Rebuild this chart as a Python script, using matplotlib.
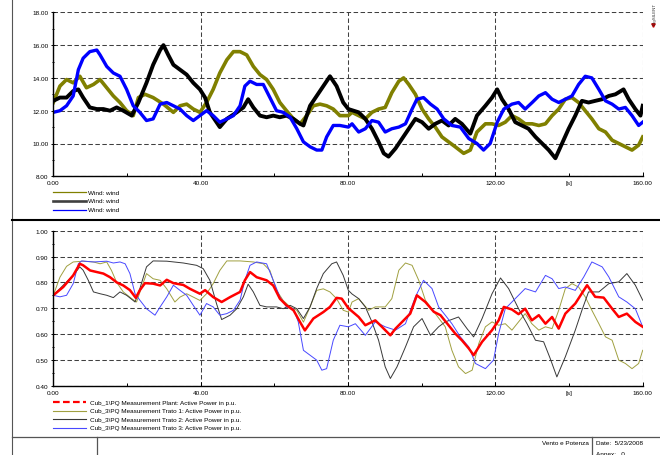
import numpy as np
import matplotlib
matplotlib.use("Agg")
import matplotlib.pyplot as plt
from matplotlib.lines import Line2D

plt.rcParams['font.family'] = ['Liberation Sans', 'DejaVu Sans']

# ---- wind speeds (top panel) ----
t_w1 = [0, 1.8, 3.6, 5.4, 7.2, 9, 10.9, 12.7, 14.5, 16.3,
        18.1, 19.9, 21.7, 23.1, 24.9, 27.1, 29.9, 32.6, 34.4, 36.2,
        38, 39.8, 41.6, 43.4, 45.2, 47.1, 48.9, 50.7, 52.5, 54.3,
        56.1, 57.9, 59.7, 61.5, 63.3, 65.2, 67, 68.8, 70.6, 72.4,
        74.2, 76, 77.8, 80.1, 81.1, 82.9, 84.7, 86.5, 88.3, 90.1,
        91.9, 93.8, 95.1, 96.5, 98.3, 100.1, 101.9, 103.7, 105.5, 107.3,
        109.1, 111.4, 113.2, 115, 117.3, 119.1, 120.9, 122.7, 124.5, 126.3,
        128.1, 130, 131.8, 133.6, 135.4, 137.2, 139, 140.8, 142.6, 144.4,
        146.2, 148.1, 149.9, 151.7, 153.5, 155.3, 157.1, 158.9, 160]
v_w1 = [12.5, 13.5, 13.9, 13.7, 14.1, 13.4, 13.6, 13.9, 13.4, 12.9,
        12.5, 12.0, 11.7, 12.8, 13.0, 12.8, 12.4, 11.9, 12.3, 12.4,
        12.1, 11.9, 12.5, 13.3, 14.3, 15.1, 15.6, 15.6, 15.4, 14.7,
        14.2, 13.9, 13.3, 12.5, 12.0, 11.5, 11.2, 11.7, 12.3, 12.4,
        12.3, 12.1, 11.7, 11.7, 11.9, 11.7, 11.5, 11.9, 12.1, 12.2,
        13.1, 13.8, 14.0, 13.6, 13.0, 12.1, 11.5, 11.0, 10.4, 10.1,
        9.8, 9.4, 9.6, 10.7, 11.2, 11.2, 11.1, 11.3, 11.7, 11.5,
        11.2, 11.2, 11.1, 11.2, 11.7, 12.1, 12.7, 12.8, 12.5, 12.0,
        11.5, 10.9, 10.7, 10.2, 10.0, 9.8, 9.6, 9.9, 10.4]

t_w2 = [0, 1.8, 3.6, 5.4, 6.8, 8.1, 9.9, 11.8, 13.6, 15.4,
        17.2, 19, 21.3, 23.1, 25.3, 27.1, 29, 29.9, 31.2, 32.6,
        34.4, 36.2, 38, 39.8, 41.2, 42.5, 44.3, 45.2, 47.1, 49.8,
        51.6, 52.9, 54.3, 56.1, 57.9, 59.7, 61.5, 63.3, 65.2, 67,
        67.9, 69.7, 71.5, 73.3, 75.1, 76.9, 78.7, 80.1, 82.9, 84.7,
        86.5, 88.3, 89.7, 91, 92.9, 94.7, 96.5, 98.3, 100.1, 101.9,
        103.7, 105.5, 107.3, 109.1, 110.9, 113.2, 115, 117.3, 119.1, 120.5,
        121.8, 123.6, 125.4, 127.2, 129, 130.9, 132.7, 134.5, 136.3, 138.1,
        139.9, 141.7, 143.5, 145.3, 147.1, 149, 150.8, 152.6, 154.8, 156.2,
        158, 159.4, 160]
v_w2 = [12.6, 12.8, 12.8, 13.2, 13.3, 12.8, 12.2, 12.1, 12.1, 12.0,
        12.2, 12.0, 11.7, 12.5, 13.7, 14.8, 15.7, 16.0, 15.4, 14.8,
        14.5, 14.2, 13.7, 13.3, 12.8, 11.9, 11.3, 11.0, 11.5, 11.9,
        12.2, 12.7, 12.2, 11.7, 11.6, 11.7, 11.6, 11.7, 11.5, 11.2,
        11.1, 12.3, 12.9, 13.5, 14.1, 13.5, 12.5, 12.1, 11.9, 11.5,
        10.9, 10.1, 9.4, 9.2, 9.7, 10.3, 10.9, 11.5, 11.3, 10.9,
        11.2, 11.4, 11.1, 11.5, 11.2, 10.6, 11.7, 12.3, 12.8, 13.3,
        12.7, 12.1, 11.3, 11.1, 10.9, 10.4, 10.0, 9.6, 9.1, 10.0,
        10.9, 11.7, 12.6, 12.5, 12.6, 12.7, 12.9, 13.0, 13.3, 12.7,
        12.1, 11.7, 12.3]

t_w3 = [0, 1.8, 3.6, 5.4, 6.8, 8.1, 9.9, 11.8, 12.7, 14.5,
        16.3, 18.1, 19.9, 21.7, 23.5, 25.3, 27.1, 29, 30.8, 32.6,
        34.4, 36.2, 38, 39.8, 41.6, 43.4, 45.2, 47.1, 48.9, 50.7,
        52, 53.4, 55.2, 57, 58.8, 60.6, 62.4, 64.3, 66.1, 67.9,
        69.7, 71.5, 72.9, 74.2, 76, 77.8, 80.1, 81.1, 82.9, 84.7,
        86.5, 88.3, 90.1, 91.9, 93.8, 95.6, 97.4, 98.7, 100.5, 102.4,
        104.2, 106, 108.2, 110.5, 112.8, 115, 116.8, 118.6, 120.5, 122.3,
        124.5, 126.3, 128.1, 130, 131.8, 133.6, 135.4, 137.2, 139, 140.8,
        142.6, 144.4, 146.2, 148.1, 149.9, 151.7, 153.5, 155.3, 157.1, 158.9,
        160]
v_w3 = [11.9, 12.0, 12.3, 12.9, 14.5, 15.2, 15.6, 15.7, 15.4, 14.7,
        14.3, 14.1, 13.3, 12.3, 11.9, 11.4, 11.5, 12.4, 12.5, 12.3,
        12.1, 11.7, 11.4, 11.7, 12.0, 11.7, 11.3, 11.5, 11.7, 12.3,
        13.5, 13.8, 13.6, 13.6, 12.8, 12.0, 11.9, 11.6, 10.9, 10.1,
        9.8, 9.6, 9.6, 10.4, 11.1, 11.1, 11.0, 11.2, 10.7, 10.9,
        11.4, 11.3, 10.7, 10.9, 11.0, 11.2, 12.1, 12.7, 12.8, 12.4,
        12.1, 11.5, 11.1, 11.0, 10.3, 10.0, 9.6, 10.0, 11.3, 12.1,
        12.4, 12.5, 12.1, 12.5, 12.9, 13.1, 12.7, 12.5, 12.7, 12.9,
        13.6, 14.1, 14.0, 13.3, 12.6, 12.4, 12.1, 12.2, 11.7, 11.1,
        11.3]

# ---- active power (bottom panel) ----
t_p0 = [0, 2.7, 5.4, 7.2, 8.1, 10, 11.8, 13.6, 15.4, 17.2,
        19, 20.8, 22.4, 23.5, 24.9, 27.1, 29, 30.8, 32.6, 35.3,
        37.1, 39.8, 41.2, 43.4, 45.7, 48, 50.7, 52, 53.4, 55.2,
        57.9, 59.7, 61.5, 63.3, 65.2, 67, 68.3, 70.6, 73.3, 75.1,
        76.9, 78.3, 80.1, 82.9, 84.7, 87.4, 89.2, 91.5, 92.9, 94.7,
        96.9, 98.7, 101, 103.3, 105.1, 107.3, 109.1, 110.9, 112.8, 114.1,
        116.4, 119.1, 120.9, 122.3, 124.5, 126.3, 128.1, 129.9, 131.8, 133.6,
        135.4, 137.2, 139, 141.7, 144.9, 147.1, 149.4, 151.7, 153.5, 155.7,
        158, 160]
v_p0 = [0.75, 0.782, 0.827, 0.872, 0.866, 0.846, 0.84, 0.834, 0.82, 0.80,
        0.788, 0.77, 0.74, 0.77, 0.797, 0.795, 0.788, 0.81, 0.797, 0.79,
        0.775, 0.756, 0.77, 0.743, 0.724, 0.743, 0.763, 0.808, 0.84, 0.82,
        0.808, 0.788, 0.737, 0.711, 0.692, 0.646, 0.614, 0.66, 0.685, 0.705,
        0.74, 0.737, 0.70, 0.666, 0.634, 0.653, 0.628, 0.595, 0.621, 0.647,
        0.679, 0.75, 0.724, 0.686, 0.673, 0.634, 0.602, 0.576, 0.544, 0.518,
        0.57, 0.615, 0.653, 0.705, 0.695, 0.677, 0.698, 0.653, 0.673, 0.64,
        0.666, 0.621, 0.679, 0.718, 0.789, 0.744, 0.741, 0.698, 0.666, 0.679,
        0.647, 0.628]

t_p1 = [0, 1.8, 3.6, 5.4, 8.1, 10.9, 12.7, 14.5, 15.8, 17.2,
        19, 21.3, 22.6, 24, 25.3, 27.1, 29, 30.8, 33, 34.4,
        36.2, 38, 39.8, 41.6, 43.4, 45.2, 47.1, 50.7, 54.3, 57,
        58.8, 60.6, 62.4, 64.3, 66.1, 67.9, 69.7, 71.5, 73.3, 75.1,
        76.9, 78.7, 80.1, 81.1, 82.9, 85.6, 87.4, 90.1, 91.9, 93.8,
        95.6, 97.4, 99.2, 101, 103.7, 106.4, 108.2, 110, 111.9, 113.7,
        115.5, 117.3, 119.1, 120.9, 122.7, 124.5, 126.3, 128.1, 129.9, 131.8,
        133.6, 135.4, 137.2, 139, 140.8, 142.6, 144.4, 146.2, 148.1, 149.9,
        151.7, 153.5, 155.3, 157.1, 158.9, 160]
v_p1 = [0.75, 0.82, 0.862, 0.879, 0.882, 0.879, 0.872, 0.879, 0.846, 0.80,
        0.763, 0.737, 0.724, 0.782, 0.834, 0.814, 0.808, 0.775, 0.724, 0.743,
        0.756, 0.743, 0.73, 0.756, 0.795, 0.846, 0.883, 0.883, 0.879, 0.872,
        0.846, 0.769, 0.73, 0.705, 0.692, 0.646, 0.705, 0.769, 0.775, 0.763,
        0.737, 0.692, 0.685, 0.724, 0.737, 0.692, 0.705, 0.705, 0.737, 0.847,
        0.875, 0.866, 0.808, 0.731, 0.679, 0.628, 0.537, 0.473, 0.447, 0.46,
        0.563, 0.628, 0.647, 0.634, 0.64, 0.615, 0.647, 0.679, 0.64, 0.615,
        0.628, 0.621, 0.692, 0.776, 0.795, 0.782, 0.744, 0.692, 0.64, 0.589,
        0.576, 0.499, 0.486, 0.466, 0.486, 0.537]

t_p2 = [0, 2.7, 5.4, 7.2, 8.1, 9.5, 10.9, 12.7, 14.5, 16.3,
        18.1, 19.9, 22.2, 23.5, 25.3, 27.1, 30.8, 35.3, 38.9, 40.7,
        42.5, 44.3, 45.7, 48, 49.8, 51.6, 52.9, 54.3, 56.1, 57.9,
        60.6, 62.4, 64.3, 66.1, 67.9, 69.7, 71.5, 73.3, 75.6, 76.9,
        78.7, 80.1, 81.1, 82.9, 84.7, 86.5, 88.3, 90.1, 91.5, 93.3,
        95.6, 97.8, 100.1, 102.4, 104.6, 106.4, 110, 112.3, 114.1, 116.4,
        119.1, 121.4, 123.6, 126.3, 128.6, 130.9, 133.1, 134.9, 136.7, 139,
        141.7, 143.5, 145.3, 148.1, 150.8, 153.5, 155.7, 158, 160]
v_p2 = [0.75, 0.789, 0.827, 0.86, 0.847, 0.808, 0.763, 0.756, 0.75, 0.741,
        0.763, 0.75, 0.724, 0.776, 0.86, 0.883, 0.882, 0.875, 0.866, 0.853,
        0.808, 0.718, 0.656, 0.673, 0.698, 0.744, 0.793, 0.763, 0.711, 0.705,
        0.705, 0.698, 0.711, 0.698, 0.66, 0.705, 0.776, 0.834, 0.872, 0.879,
        0.827, 0.769, 0.755, 0.737, 0.705, 0.647, 0.576, 0.473, 0.428, 0.473,
        0.55, 0.628, 0.66, 0.595, 0.628, 0.647, 0.666, 0.621, 0.589, 0.66,
        0.756, 0.817, 0.776, 0.698, 0.64, 0.576, 0.57, 0.505, 0.434, 0.512,
        0.615, 0.692, 0.763, 0.763, 0.795, 0.802, 0.834, 0.789, 0.731]

t_p3 = [0, 1.8, 3.6, 5.4, 6.8, 7.7, 10.9, 14.5, 16.3, 18.1,
        19.5, 20.8, 22.2, 23.5, 25.3, 27.6, 29, 30.8, 32.6, 34.4,
        36.2, 38, 39.8, 41.6, 43.4, 45.2, 47.1, 48.9, 50.7, 52,
        53.4, 55.2, 57.9, 59.7, 61.5, 63.3, 65.2, 66.5, 67.9, 69.7,
        71.5, 72.9, 74.2, 76, 77.8, 80.1, 82, 84.7, 87.4, 90.1,
        92.9, 95.6, 98.3, 100.5, 102.8, 104.6, 106.4, 108.2, 110.5, 112.8,
        114.6, 117.3, 119.5, 120.9, 122.7, 125.4, 128.1, 130.9, 133.6, 135.4,
        137.2, 139, 141.7, 144, 146.2, 149, 150.8, 153.5, 155.7, 158,
        160]
v_p3 = [0.75, 0.744, 0.75, 0.795, 0.872, 0.883, 0.879, 0.882, 0.875, 0.879,
        0.872, 0.834, 0.756, 0.731, 0.698, 0.673, 0.705, 0.744, 0.789, 0.769,
        0.75, 0.711, 0.673, 0.718, 0.705, 0.673, 0.679, 0.692, 0.731, 0.808,
        0.866, 0.879, 0.872, 0.808, 0.744, 0.705, 0.698, 0.647, 0.537, 0.518,
        0.499, 0.46, 0.466, 0.576, 0.634, 0.628, 0.64, 0.595, 0.647, 0.628,
        0.615, 0.64, 0.744, 0.808, 0.776, 0.705, 0.673, 0.64, 0.589, 0.55,
        0.486, 0.466, 0.499, 0.602, 0.698, 0.737, 0.776, 0.763, 0.827, 0.814,
        0.776, 0.782, 0.769, 0.821, 0.879, 0.86, 0.821, 0.744, 0.724, 0.698,
        0.628]

wind_labels = ['Wind: wind', 'Wind: wind', 'Wind: wind']
power_labels = ['Cub_1\\PQ Measurement Plant: Active Power in p.u.',
                'Cub_3\\PQ Measurement Trato 1: Active Power in p.u.',
                'Cub_3\\PQ Measurement Trato 2: Active Power in p.u.',
                'Cub_3\\PQ Measurement Trato 3: Active Power in p.u.']

W, H = 660, 456
FS = 4.6
grid_ls = (0, (4.3, 2.4))


def fx(px):
    return px / W


def fy(py):
    return 1 - py / H


def style_axis(ax, ylim, ystep, yminor):
    ax.set_xlim(0, 160)
    ax.set_ylim(*ylim)
    ax.set_xticks([0, 40, 80, 120, 160])
    ax.set_xticklabels(['0.00', '40.00', '80.00', '120.00', '160.00'])
    ax.set_xticks([20, 60, 100, 140], minor=True)
    ax.set_xticklabels(['', '', '', '[s]'], minor=True)
    yt = np.arange(ylim[0], ylim[1] + ystep / 2, ystep)
    ax.set_yticks(yt)
    ax.set_yticklabels(['%.2f' % v for v in yt])
    ax.set_yticks(np.arange(ylim[0], ylim[1], yminor), minor=True)
    ax.grid(True, which='major', color='#404040', lw=0.75, ls=grid_ls)
    for s in ['top', 'right']:
        ax.spines[s].set_visible(False)
    for s in ['left', 'bottom']:
        ax.spines[s].set_linewidth(1.0)
        ax.spines[s].set_zorder(5)
    ax.tick_params(which='both', labelsize=FS, colors='black', width=0.7)
    ax.tick_params(axis='y', which='major', direction='inout', length=3, pad=2)
    ax.tick_params(axis='y', which='minor', direction='inout', length=2)
    ax.tick_params(axis='x', which='major', direction='in', length=3, pad=3)
    ax.tick_params(axis='x', which='minor', direction='in', length=2, pad=3)


fig = plt.figure(figsize=(6.6, 4.56), dpi=100)

ax1 = fig.add_axes([fx(53.3), fy(177.3), fx(642.7) - fx(53.3), fy(13.3) - fy(177.3)])
ax1.plot(t_w1, v_w1, color='#808000', lw=2.6, zorder=2)
ax1.plot(t_w2, v_w2, color='#000000', lw=2.8, zorder=3)
ax1.plot(t_w3, v_w3, color='#0000ff', lw=2.4, zorder=4)
style_axis(ax1, (8, 18), 2, 1)

ax2 = fig.add_axes([fx(53.3), fy(386.7), fx(642.7) - fx(53.3), fy(231.7) - fy(386.7)])
ax2.plot(t_p1, v_p1, color='#a0a040', lw=0.7, zorder=2)
ax2.plot(t_p2, v_p2, color='#383838', lw=0.7, zorder=2)
ax2.plot(t_p3, v_p3, color='#4848ff', lw=0.7, zorder=2)
ax2.plot(t_p0, v_p0, color='#ff0000', lw=1.8, zorder=4)
style_axis(ax2, (0.4, 1.0), 0.1, 0.05)

# legends drawn under each panel
wind_styles = [dict(color='#808000', lw=0.9),
               dict(color='#404040', lw=1.9),
               dict(color='#0000ff', lw=0.9)]
for i, (lab, st) in enumerate(zip(wind_labels, wind_styles)):
    y = fy(193.3 + 8.6 * i)
    fig.add_artist(Line2D([fx(53), fx(86)], [y, y], transform=fig.transFigure, **st))
    fig.text(fx(88.5), y, lab, fontsize=FS, va='center', ha='left')

power_styles = [dict(color='#ff0000', lw=1.6, ls=(0, (3, 1.5))),
                dict(color='#a0a040', lw=0.8),
                dict(color='#383838', lw=0.8),
                dict(color='#4848ff', lw=0.8)]
for i, (lab, st) in enumerate(zip(power_labels, power_styles)):
    y = fy(403.3 + 8.4 * i)
    fig.add_artist(Line2D([fx(53), fx(86)], [y, y], transform=fig.transFigure, **st))
    fig.text(fx(90), y, lab, fontsize=FS, va='center', ha='left')

# page frame and title block
frame = '#555555'
fig.add_artist(Line2D([fx(11.5), fx(11.5)], [0, 1], transform=fig.transFigure,
                      color=frame, lw=0.8))
fig.add_artist(Line2D([fx(11.5), 1], [fy(220.5), fy(220.5)], transform=fig.transFigure,
                      color='black', lw=1.5))
fig.add_artist(Line2D([fx(11.5), 1], [fy(438), fy(438)], transform=fig.transFigure,
                      color=frame, lw=0.9))
fig.add_artist(Line2D([fx(96.7), fx(96.7)], [0, fy(438)], transform=fig.transFigure,
                      color=frame, lw=0.9))
fig.add_artist(Line2D([fx(592), fx(592)], [0, fy(438)], transform=fig.transFigure,
                      color=frame, lw=0.9))
fig.text(fx(589), fy(443.5), 'Vento e Potenza', fontsize=FS, ha='right', va='center')
fig.text(fx(596), fy(443.5), 'Date:  5/23/2008', fontsize=FS, ha='left', va='center')
fig.text(fx(596), fy(455), 'Annex:   0', fontsize=FS, ha='left', va='center')

fig.text(fx(655), fy(14), 'DIgSILENT', fontsize=3.2, rotation=90, ha='center',
         va='center', color='#333333')
fig.add_artist(Line2D([fx(653)], [fy(26)], transform=fig.transFigure, marker='v',
                      color='#c00000', ms=2.5, lw=0))

fig.savefig('out.png', dpi=100)
